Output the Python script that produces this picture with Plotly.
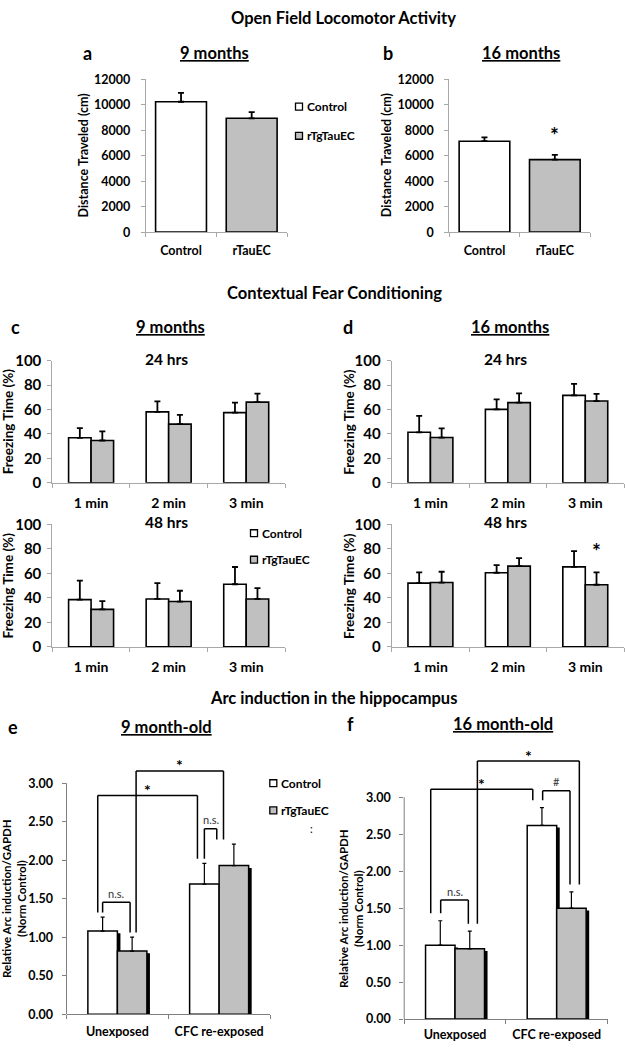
import plotly.graph_objects as go

# ---------------- data ----------------
of_groups = ["Control", "rTauEC"]
of_9m_mean = [10250, 8950]
of_9m_err = [700, 480]
of_16m_mean = [7150, 5700]
of_16m_err = [300, 380]

cfc_times = ["1 min", "2 min", "3 min"]
c24_ctrl = [36.8, 58.0, 57.4]
c24_ctrl_err = [8.0, 8.6, 8.2]
c24_tg = [34.6, 48.0, 66.0]
c24_tg_err = [7.5, 7.5, 7.0]
c48_ctrl = [38.6, 39.1, 51.1]
c48_ctrl_err = [15.4, 12.9, 14.1]
c48_tg = [30.6, 37.0, 39.1]
c48_tg_err = [6.7, 8.8, 8.8]
d24_ctrl = [41.3, 60.1, 71.5]
d24_ctrl_err = [13.5, 8.1, 9.4]
d24_tg = [37.0, 65.6, 66.9]
d24_tg_err = [7.5, 7.5, 5.9]
d48_ctrl = [52.0, 60.5, 65.3]
d48_ctrl_err = [8.8, 6.2, 12.8]
d48_tg = [52.5, 65.9, 50.7]
d48_tg_err = [8.8, 6.6, 10.1]

arc_groups = ["Unexposed", "CFC re-exposed"]
e_ctrl = [1.08, 1.69]
e_ctrl_err = [0.18, 0.27]
e_tg = [0.82, 1.93]
e_tg_err = [0.18, 0.28]
f_ctrl = [1.00, 2.62]
f_ctrl_err = [0.33, 0.24]
f_tg = [0.95, 1.50]
f_tg_err = [0.24, 0.22]

series_names = ["Control", "rTgTauEC"]

# significance brackets: (left series, left idx, left dx, right series, right idx, right dx, height, label)
e_brackets = [
    ("ctrl", 0, 0.0, "tg", 0, -0.02, 1.455, "n.s."),
    ("ctrl", 0, -0.048, "ctrl", 1, -0.068, 2.84, "*"),
    ("tg", 0, 0.039, "tg", 1, -0.102, 3.16, "*"),
    ("ctrl", 1, 0.0, "tg", 1, -0.168, 2.41, "n.s."),
]
f_brackets = [
    ("ctrl", 0, 0.004, "tg", 0, -0.014, 1.61, "n.s."),
    ("ctrl", 0, -0.094, "ctrl", 1, -0.09, 3.11, "*"),
    ("tg", 0, 0.075, "tg", 1, 0.078, 3.49, "*"),
    ("ctrl", 1, 0.007, "tg", 1, -0.014, 3.09, "#"),
]

# ---------------- style ----------------
W, H = 625, 1050
FONT = "Lato"
GREY = "#c0c0c0"
AX_LIGHT = "#a8a8a8"
AX_DARK = "#7f7f7f"
BW = 0.29  # grouped bar width (category units)


def X(px):
    return px / W


def Y(py):
    return 1 - py / H


fig = go.Figure()
layout = {}
annotations = []
shapes = []


def ax_name(i, letter):
    return f"{letter}axis" + ("" if i == 1 else str(i))


def ref(i, letter):
    return letter + ("" if i == 1 else str(i))


def setup_axes(i, cats, xpx, ypx, yrange, tickvals, tickfmt, tfs, xfs, lc, ystand, xstand, show_yline=True):
    layout[ax_name(i, "x")] = dict(
        domain=[X(xpx[0]), X(xpx[1])], anchor=ref(i, "y"), type="category",
        categoryorder="array", categoryarray=cats, range=[-0.5, len(cats) - 0.5],
        showline=True, linecolor=lc, linewidth=1, ticks="outside", tickson="boundaries",
        ticklen=4, tickcolor=lc, showgrid=False, zeroline=False,
        tickfont=dict(family=FONT, size=xfs, color="black", weight="bold"),
        ticklabelstandoff=xstand,
    )
    layout[ax_name(i, "y")] = dict(
        domain=[Y(ypx[0]), Y(ypx[1])], anchor=ref(i, "x"), range=yrange,
        tickvals=tickvals, tickformat=tickfmt, showline=show_yline, linecolor=lc, linewidth=1,
        ticks="outside", ticklen=4, tickcolor=lc, showgrid=False, zeroline=False,
        tickfont=dict(family=FONT, size=tfs, color="black", weight="bold"),
        ticklabelstandoff=ystand,
    )


def err(arr, th, wd):
    return dict(type="data", array=arr, arrayminus=[0] * len(arr), symmetric=False,
                color="black", thickness=th, width=wd, visible=True)


# ---- panels a, b ----
for i, means, errs in [(1, of_9m_mean, of_9m_err), (2, of_16m_mean, of_16m_err)]:
    fig.add_trace(go.Bar(
        x=of_groups, y=means, width=0.72, marker=dict(color=["white", GREY], line=dict(color="black", width=1.6)),
        error_y=err(errs, 1.8, 3), xaxis=ref(i, "x"), yaxis=ref(i, "y"), showlegend=False))
setup_axes(1, of_groups, (145.7, 287.0), (226.0, 70.7), [0, 12000], list(range(0, 12001, 2000)), "d", 12.5, 12.5, AX_LIGHT, 8, 7)
setup_axes(2, of_groups, (449.3, 590.0), (226.0, 70.7), [0, 12000], list(range(0, 12001, 2000)), "d", 12.5, 12.5, AX_LIGHT, 8, 7)

# ---- panels c, d ----
cfc_sets = [
    (3, c24_ctrl, c24_ctrl_err, c24_tg, c24_tg_err, (52.3, 285.0), (481.0, 356.7)),
    (4, c48_ctrl, c48_ctrl_err, c48_tg, c48_tg_err, (52.3, 285.0), (648.0, 523.3)),
    (5, d24_ctrl, d24_ctrl_err, d24_tg, d24_tg_err, (391.7, 624.0), (481.0, 356.7)),
    (6, d48_ctrl, d48_ctrl_err, d48_tg, d48_tg_err, (391.7, 624.0), (648.0, 523.3)),
]
for i, cm, ce, tm, te, xpx, ypx in cfc_sets:
    fig.add_trace(go.Bar(x=cfc_times, y=cm, width=BW, offset=-BW, name=series_names[0],
                         marker=dict(color="white", line=dict(color="black", width=1.6)),
                         error_y=err(ce, 1.8, 3), xaxis=ref(i, "x"), yaxis=ref(i, "y"), showlegend=False))
    fig.add_trace(go.Bar(x=cfc_times, y=tm, width=BW, offset=0, name=series_names[1],
                         marker=dict(color=GREY, line=dict(color="black", width=1.6)),
                         error_y=err(te, 1.8, 3), xaxis=ref(i, "x"), yaxis=ref(i, "y"), showlegend=False))
    setup_axes(i, cfc_times, xpx, ypx, [0, 100], [0, 20, 40, 60, 80, 100], None, 15, 14, AX_LIGHT, 3, 7)

# ---- panels e, f ----
arc_sets = [
    (7, e_ctrl, e_ctrl_err, e_tg, e_tg_err, (66.5, 270.0), (1021.7, 759.3), 3.35, e_brackets, 0.06),
    (8, f_ctrl, f_ctrl_err, f_tg, f_tg_err, (404.2, 607.5), (1026.7, 744.6), 3.75, f_brackets, 0.10),
]
for i, cm, ce, tm, te, xpx, ypx, ytop, brackets, pad in arc_sets:
    xr, yr = ref(i, "x"), ref(i, "y")
    for means, off in [(cm, -BW), (tm, 0.0)]:
        # drop shadows on the right side of each bar
        for k, v in enumerate(means):
            shapes.append(dict(type="rect", xref=xr, yref=yr, x0=k + off + BW, x1=k + off + BW + 0.03,
                               y0=0, y1=v - 0.03, fillcolor="black", line=dict(width=0), layer="below"))
    fig.add_trace(go.Bar(x=arc_groups, y=cm, width=BW, offset=-BW, name=series_names[0],
                         marker=dict(color="white", line=dict(color="black", width=1.5)),
                         error_y=err(ce, 1.2, 2), xaxis=xr, yaxis=yr, showlegend=False))
    fig.add_trace(go.Bar(x=arc_groups, y=tm, width=BW, offset=0, name=series_names[1],
                         marker=dict(color=GREY, line=dict(color="black", width=1.5)),
                         error_y=err(te, 1.2, 2), xaxis=xr, yaxis=yr, showlegend=False))
    setup_axes(i, arc_groups, xpx, ypx, [0, ytop], [0, 0.5, 1.0, 1.5, 2.0, 2.5, 3.0], ".2f", 12.5, 12.5, AX_DARK, 6,
               6 if i == 7 else 4, show_yline=False)
    # y axis line only up to 3.00
    y0p, y1p = Y(ypx[0]), Y(ypx[1])
    shapes.append(dict(type="line", xref="paper", yref="paper", x0=X(xpx[0]), x1=X(xpx[0]),
                       y0=y0p, y1=y0p + (y1p - y0p) * 3.0 / ytop, line=dict(color=AX_DARK, width=1)))
    tops = {"ctrl": [m + e for m, e in zip(cm, ce)], "tg": [m + e for m, e in zip(tm, te)]}
    centers = {"ctrl": lambda k: k - BW / 2, "tg": lambda k: k + BW / 2}
    for ls, li, ldx, rs, ri, rdx, h, lab in brackets:
        xl = centers[ls](li) + ldx
        xrr = centers[rs](ri) + rdx
        ln = dict(color="black", width=1.5)
        shapes.append(dict(type="line", xref=xr, yref=yr, x0=xl, x1=xl, y0=tops[ls][li] + pad, y1=h, line=ln))
        shapes.append(dict(type="line", xref=xr, yref=yr, x0=xl, x1=xrr, y0=h, y1=h, line=ln))
        shapes.append(dict(type="line", xref=xr, yref=yr, x0=xrr, x1=xrr, y0=tops[rs][ri] + pad, y1=h, line=ln))
        if lab == "*":
            annotations.append(dict(xref=xr, yref=yr, x=(xl + xrr) / 2, y=h, text="<b>*</b>", showarrow=False,
                                    xanchor="center", yanchor="middle", yshift=6,
                                    font=dict(family=FONT, size=16, color="black")))
        else:
            annotations.append(dict(xref=xr, yref=yr, x=(xl + xrr) / 2, y=h, text=lab, showarrow=False,
                                    xanchor="center", yanchor="middle", yshift=9,
                                    font=dict(family=FONT, size=11, color="#333333")))

# ---- significance stars on a-d ----
annotations.append(dict(xref="x2", yref="y2", x=of_groups[1], y=of_16m_mean[1] + of_16m_err[1], text="<b>*</b>",
                        showarrow=False, yanchor="bottom", yshift=6, font=dict(family=FONT, size=21, color="black")))
annotations.append(dict(xref="x6", yref="y6", x=2 + BW / 2, y=d48_tg[2] + d48_tg_err[2], text="<b>*</b>",
                        showarrow=False, yanchor="bottom", yshift=7, font=dict(family=FONT, size=21, color="black")))


# ---- texts ----
def txt(px, py, s, size, bold=True, anchor="center", angle=0, color="black"):
    annotations.append(dict(xref="paper", yref="paper", x=X(px), y=Y(py), text=s, showarrow=False,
                            xanchor=anchor, yanchor="middle", textangle=angle,
                            font=dict(family=FONT, size=size, color=color, weight="bold" if bold else "normal")))


def ul(s):
    return f'<span style="text-decoration:underline">{s}</span>'


txt(343, 8, "Open Field Locomotor Activity", 16.5)
txt(87, 44, "a", 18)
txt(214, 44, ul("9 months"), 16.5)
txt(388, 44, "b", 18)
txt(521, 44, ul("16 months"), 16.5)
txt(334, 288, "Contextual Fear Conditioning", 16.5)
txt(15, 323, "c", 18)
txt(170, 323, ul("9 months"), 16.5)
txt(348, 323, "d", 18)
txt(510, 323, ul("16 months"), 16.5)
txt(166, 355, "24 hrs", 15.5)
txt(505, 355, "24 hrs", 15.5)
txt(166, 521, "48 hrs", 15.5)
txt(505, 521, "48 hrs", 15.5)
txt(333, 700, "Arc induction in the hippocampus", 16.5)
txt(13, 730, "e", 18)
txt(166, 730, ul("9 month-old"), 16.5)
txt(350, 726, "f", 18)
txt(503, 726, ul("16 month-old"), 16.5)

# axis titles
txt(83, 148, "Distance Traveled (cm)", 12.5, angle=-90)
txt(386.7, 148, "Distance Traveled (cm)", 12.5, angle=-90)
for yy in (419, 586):
    txt(7.5, yy, "Freezing Time (%)", 13.5, angle=-90)
    txt(349, yy, "Freezing Time (%)", 13.5, angle=-90)
txt(13.5, 904, "Relative Arc induction/GAPDH<br>(Norm Control)", 11.5, angle=-90)
txt(351.7, 914, "Relative Arc induction/GAPDH<br>(Norm Control)", 11.5, angle=-90)


# legends
def legend(bx, y1, y2, size=12, box=7):
    for yy, col, name in [(y1, "white", series_names[0]), (y2, GREY, series_names[1])]:
        shapes.append(dict(type="rect", xref="paper", yref="paper", x0=X(bx - box / 2), x1=X(bx + box / 2),
                           y0=Y(yy + box / 2), y1=Y(yy - box / 2), fillcolor=col,
                           line=dict(color="black", width=1.3)))
        txt(bx + box / 2 + 2, yy, name, size, anchor="left")


legend(299, 98.3, 128)
legend(254, 532.3, 559.3)
legend(273.3, 786.7, 814.3)
txt(311.7, 832.7, ":", 11, bold=False)

fig.update_layout(
    **layout,
    width=W, height=H, margin=dict(l=0, r=0, t=0, b=0),
    paper_bgcolor="white", plot_bgcolor="rgba(0,0,0,0)",
    barmode="group", annotations=annotations, shapes=shapes, showlegend=False,
    font=dict(family=FONT, color="black"),
)
fig.write_html("out.html", config={"displayModeBar": False},
               post_script="document.body.style.margin='0px';")
